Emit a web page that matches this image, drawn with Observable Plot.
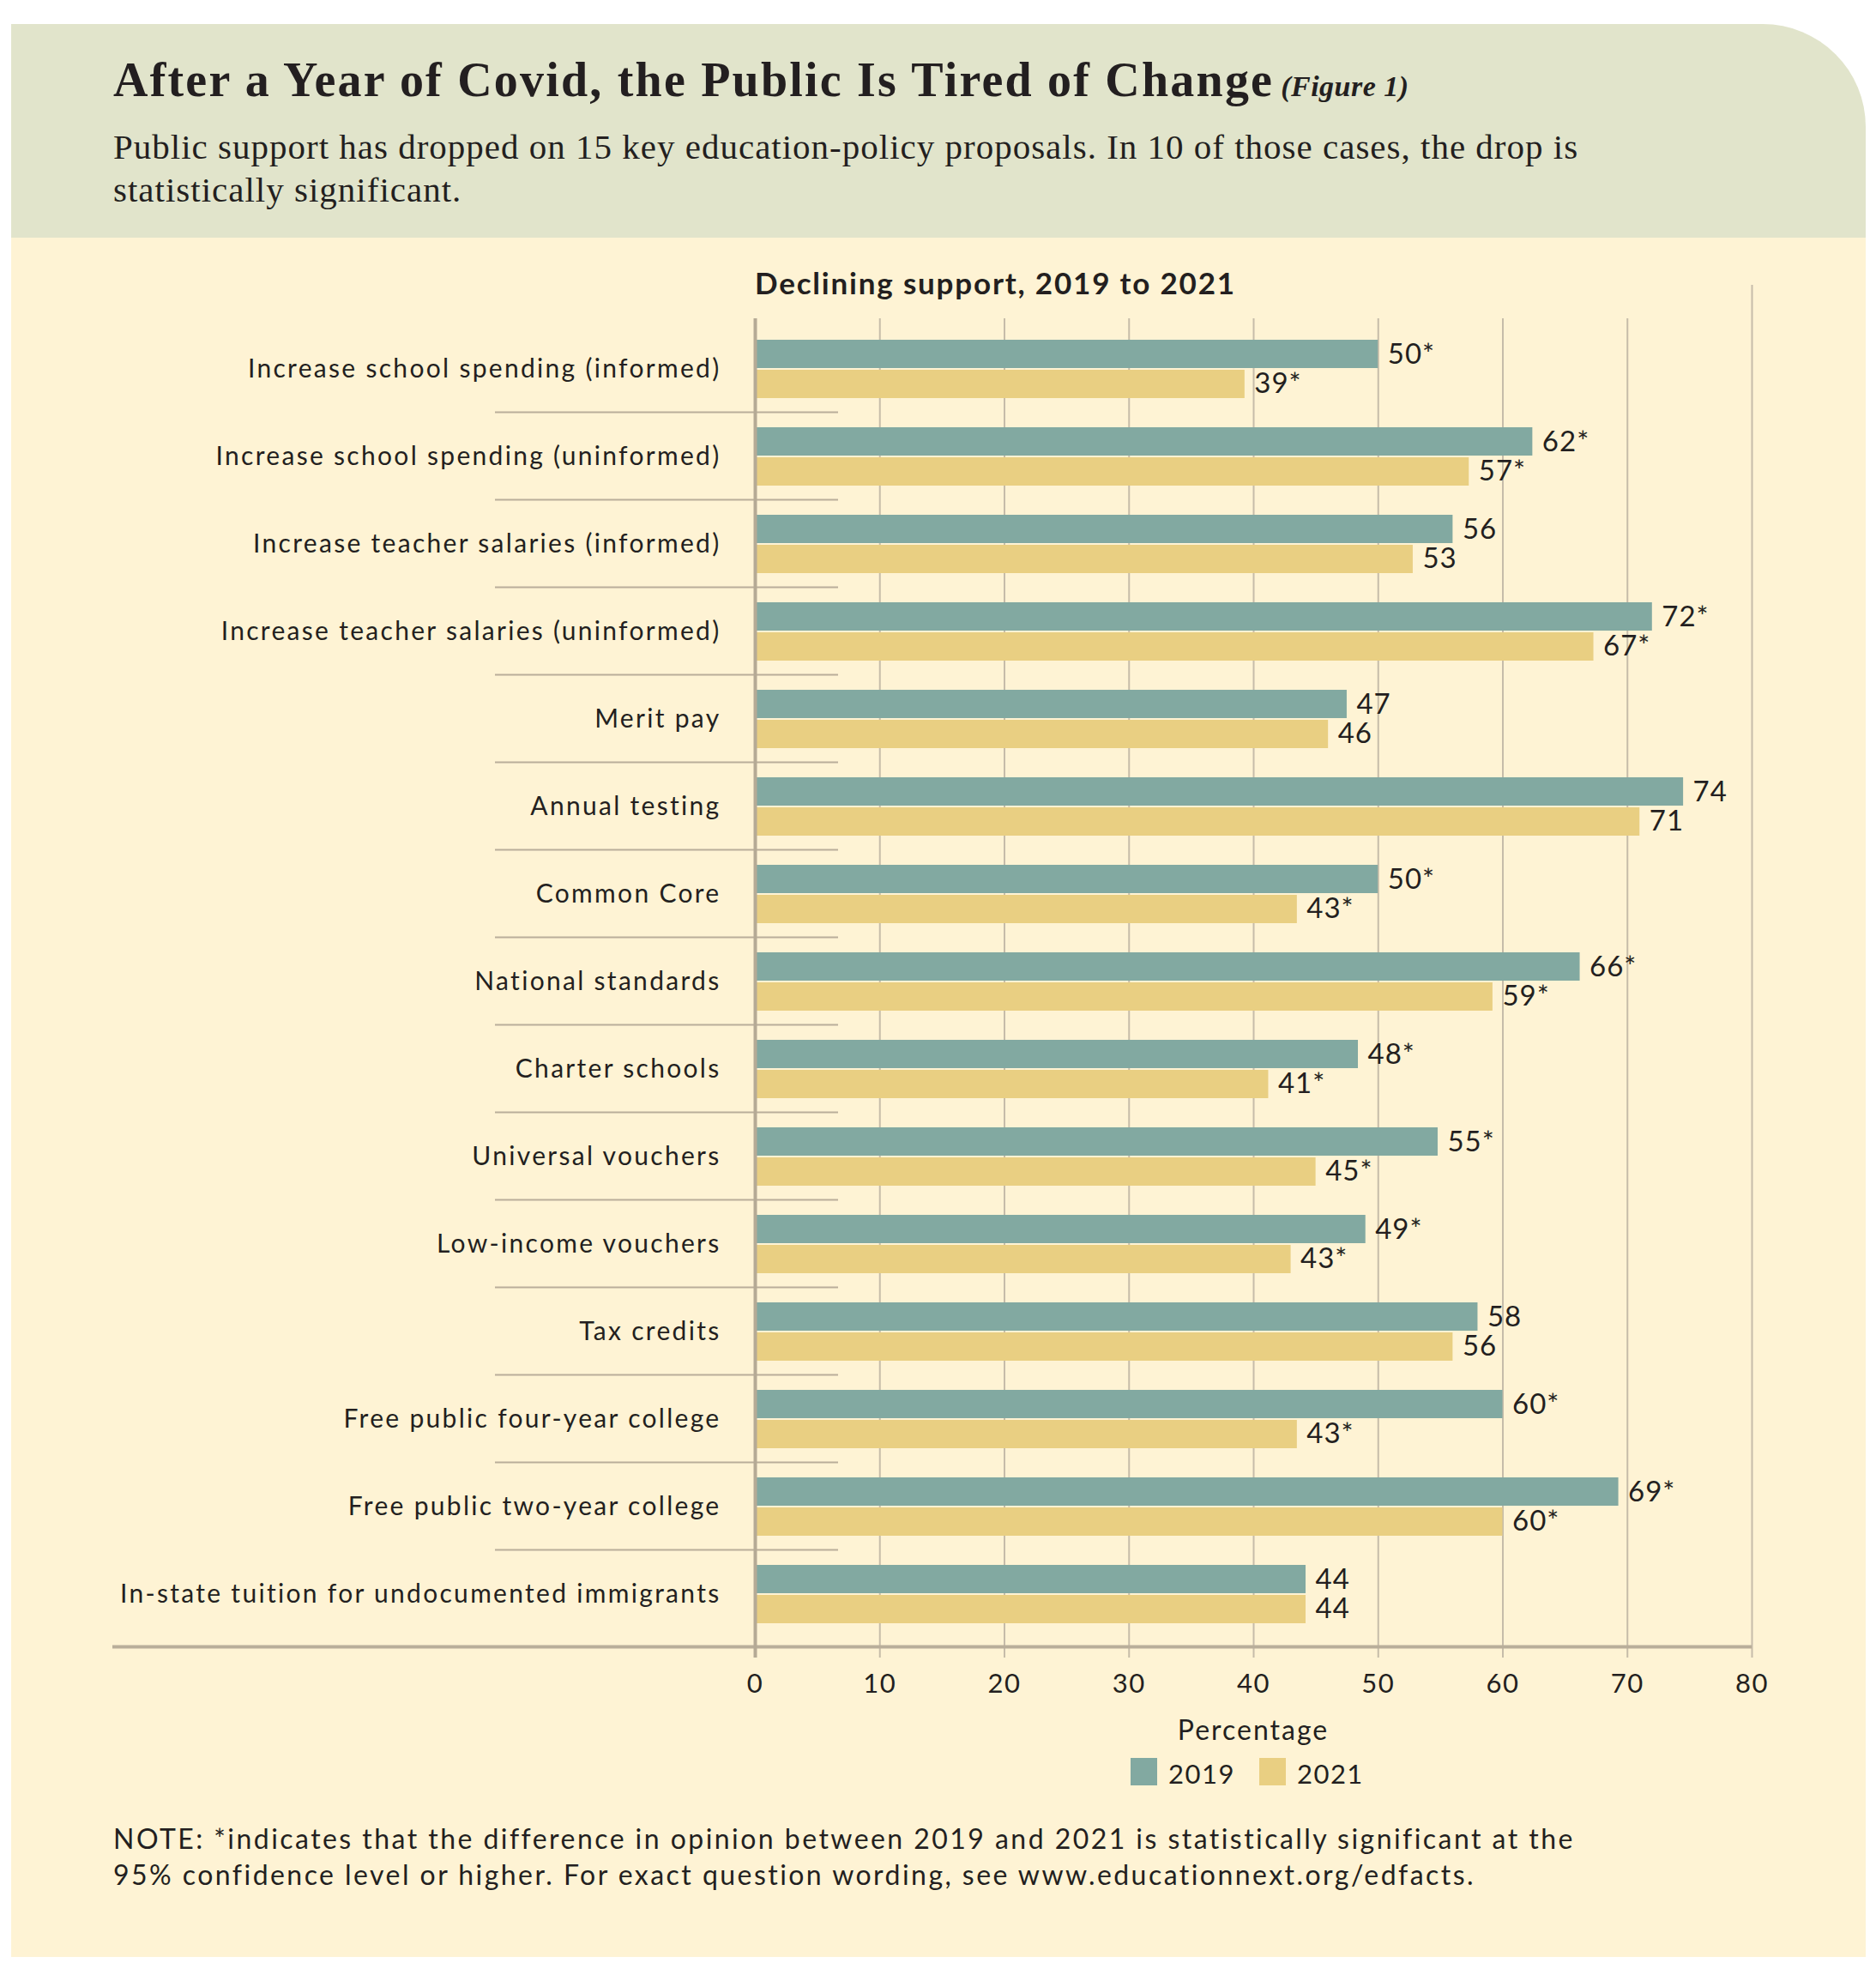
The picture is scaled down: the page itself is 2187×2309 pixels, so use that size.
<!DOCTYPE html>
<html>
<head>
<meta charset="utf-8">
<script src="https://cdn.jsdelivr.net/npm/d3@7"></script>
<script src="https://cdn.jsdelivr.net/npm/@observablehq/plot@0.6"></script>
<style>
  html, body { margin: 0; padding: 0; background: #ffffff; overflow: hidden; }
  #page { position: relative; width: 2187px; height: 2309px; overflow: hidden; background: #ffffff;
          font-family: Lato, "Open Sans", sans-serif; color: #231f20; }
  #header { position: absolute; left: 13px; top: 28px; width: 2162px; height: 249px;
            background: #e1e4cb; border-top-right-radius: 120px; }
  #panel { position: absolute; left: 13px; top: 277px; width: 2162px; height: 2004px; background: #fef3d4; }
  #title { position: absolute; left: 132px; top: 65px; font-family: "Liberation Serif", serif; font-weight: bold;
           font-size: 56px; letter-spacing: 2.2px; line-height: 1; white-space: nowrap; color: #231f20; }
  #title .fig { font-style: italic; font-size: 34px; letter-spacing: 0.5px; margin-left: 8px; }
  #subtitle { position: absolute; left: 132px; top: 146px; font-family: "Liberation Serif", serif;
              font-size: 41px; letter-spacing: 1px; line-height: 50px; white-space: nowrap; color: #231f20; }
  #charttitle { position: absolute; left: 880px; top: 312px; font-weight: bold; font-size: 35px; letter-spacing: 1.8px;
                line-height: 1; white-space: nowrap; }
  #chart { position: absolute; left: 0; top: 290px; }
  #chart g[aria-label="y-axis tick label"] text { letter-spacing: 2.3px; }
  #chart g[aria-label="x-axis tick label"] text { letter-spacing: 1.5px; }
  #chart g[aria-label="text"] text { letter-spacing: 1px; }
  #xlabel { position: absolute; left: 1261px; width: 400px; top: 2000px; text-align: center; font-size: 32px;
            letter-spacing: 2px; line-height: 1; }
  #legend { position: absolute; left: 1318px; top: 2049px; height: 32px; display: flex; align-items: flex-end; }
  #legend .sw { width: 31px; height: 32px; margin-right: 13px; }
  #legend .lab { font-size: 31px; letter-spacing: 1.5px; line-height: 1; position: relative; top: 2px; margin-right: 28px; }
  #note { position: absolute; left: 132px; top: 2122px; font-size: 32px; letter-spacing: 2.45px; line-height: 42px; white-space: nowrap; }
</style>
</head>
<body>
<div id="page">
  <div id="header"></div>
  <div id="panel"></div>
  <div id="title">After a Year of Covid, the Public Is Tired of Change<span class="fig">(Figure 1)</span></div>
  <div id="subtitle">Public support has dropped on 15 key education-policy proposals. In 10 of those cases, the drop is<br>statistically significant.</div>
  <div id="charttitle">Declining support, 2019 to 2021</div>
  <div id="chart"></div>
  <div id="xlabel">Percentage</div>
  <div id="legend"></div>
  <div id="note">NOTE: *indicates that the difference in opinion between 2019 and 2021 is statistically significant at the<br>95% confidence level or higher. For exact question wording, see www.educationnext.org/edfacts.</div>
</div>
<script>
// ---- Data ----
const categories = [
  "Increase school spending (informed)",
  "Increase school spending (uninformed)",
  "Increase teacher salaries (informed)",
  "Increase teacher salaries (uninformed)",
  "Merit pay",
  "Annual testing",
  "Common Core",
  "National standards",
  "Charter schools",
  "Universal vouchers",
  "Low-income vouchers",
  "Tax credits",
  "Free public four-year college",
  "Free public two-year college",
  "In-state tuition for undocumented immigrants"
];
// bar lengths (labels are the rounded published values)
const values2019 = [50, 62.4, 56, 72, 47.5, 74.5, 50, 66.2, 48.4, 54.8, 49, 58, 60, 69.3, 44.2];
const values2021 = [39.3, 57.3, 52.8, 67.3, 46, 71, 43.5, 59.2, 41.2, 45, 43, 56, 43.5, 60, 44.2];
const labels2019 = ["50*", "62*", "56", "72*", "47", "74", "50*", "66*", "48*", "55*", "49*", "58", "60*", "69*", "44"];
const labels2021 = ["39*", "57*", "53", "67*", "46", "71", "43*", "59*", "41*", "45*", "43*", "56", "43*", "60*", "44"];
const series = ["2019", "2021"];
const seriesColors = ["#82a9a1", "#e9cf82"];
const xTicks = [0, 10, 20, 30, 40, 50, 60, 70, 80];

// ---- Build rows ----
const rows2019 = categories.map((c, i) => ({category: c, year: series[0], value: values2019[i], label: labels2019[i]}));
const rows2021 = categories.map((c, i) => ({category: c, year: series[1], value: values2021[i], label: labels2021[i]}));

const gridColor = "#c6bca9";
const ruleColor = "#b9ae9a";

const chart = Plot.plot({
  width: 2187,
  height: 1700,
  marginTop: 87,
  marginBottom: 80,
  marginLeft: 880,
  marginRight: 145,
  style: {background: "transparent", fontFamily: "Lato, 'Open Sans', sans-serif", color: "#231f20"},
  x: {domain: [0, 80], ticks: xTicks},
  y: {domain: categories, padding: 0},
  color: {domain: series, range: seriesColors},
  marks: [
    Plot.ruleX(xTicks.filter(t => t > 0 && t < 80), {x: d => d, stroke: gridColor, strokeWidth: 2, insetTop: -6, insetBottom: -22}),
    Plot.ruleX(xTicks.filter(t => t === 80), {x: d => d, stroke: gridColor, strokeWidth: 2, insetTop: -45, insetBottom: -22}),
    Plot.barX(rows2019, {x: "value", y: "category", fill: "year", insetTop: 17, insetBottom: 52}),
    Plot.barX(rows2021, {x: "value", y: "category", fill: "year", insetTop: 52, insetBottom: 17}),
    Plot.ruleY(categories.slice(0, -1), {y: d => d, dy: 50, insetLeft: -303, insetRight: 1065, stroke: ruleColor, strokeWidth: 2}),
    Plot.ruleY(categories.slice(-1), {y: d => d, dy: 61, insetLeft: -749, stroke: ruleColor, strokeWidth: 4}),
    Plot.ruleX(xTicks.filter(t => t === 0), {x: d => d, stroke: "#b5aa95", strokeWidth: 4, insetTop: -6, insetBottom: -22}),
    Plot.text(rows2019, {x: "value", y: "category", text: "label", dx: 11, dy: -17, textAnchor: "start", fontSize: 33, fill: "#231f20"}),
    Plot.text(rows2021, {x: "value", y: "category", text: "label", dx: 11, dy: 17, textAnchor: "start", fontSize: 33, fill: "#231f20"}),
    Plot.axisY({tickSize: 0, tickPadding: 40, fontSize: 30, label: null, fill: "#231f20"}),
    Plot.axisX({ticks: xTicks, tickSize: 0, tickPadding: 40, fontSize: 31, label: null, fill: "#231f20"})
  ]
});
document.getElementById("chart").appendChild(chart);

// ---- Legend ----
const legend = document.getElementById("legend");
series.forEach((s, i) => {
  const sw = document.createElement("div");
  sw.className = "sw";
  sw.style.background = seriesColors[i];
  const lab = document.createElement("div");
  lab.className = "lab";
  lab.textContent = s;
  legend.appendChild(sw);
  legend.appendChild(lab);
});
</script>
</body>
</html>
